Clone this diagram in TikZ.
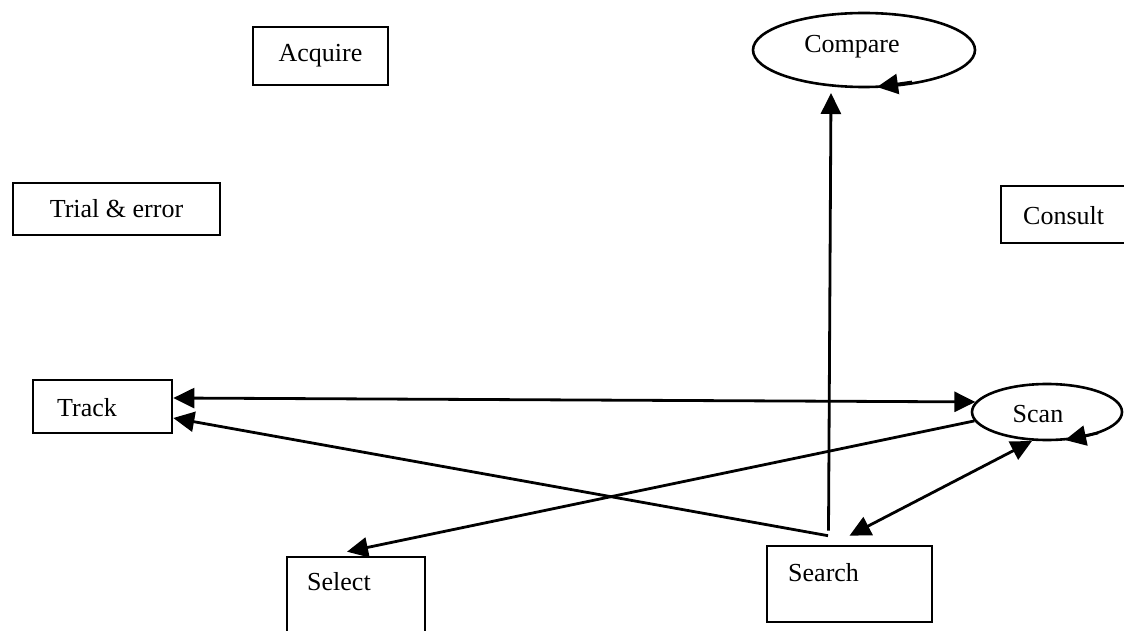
\documentclass[tikz,border=0pt]{standalone}
\usepackage{fontspec}
\setmainfont{Liberation Serif}
\usetikzlibrary{arrows.meta,shapes.geometric}
\begin{document}
\begin{tikzpicture}[x=1pt,y=-1pt,
  box/.style={draw,line width=2.6pt,rectangle,inner sep=0pt},
  oval/.style={draw,line width=2.6pt,ellipse,inner sep=0pt},
  lbl/.style={inner sep=0pt,font=\fontsize{26}{30}\selectfont},
  link/.style={line width=2.8pt},
  >={Triangle[length=21pt,width=20pt]}]
\clip (0,0) rectangle (1124,631);

% boxes with centred text
\node[box,lbl,minimum width=135pt,minimum height=58pt] (acquire) at (320.5,56) {Acquire};
\node[box,lbl,minimum width=207pt,minimum height=52pt] (trial) at (116.5,209) {Trial \& error};
\node[box,minimum width=133pt,minimum height=57pt] (consult) at (1067.5,214.5) {};
\node[lbl,anchor=base west] (consultText) at (1023,225) {Consult};

% boxes with text set near the top left
\node[box,minimum width=139pt,minimum height=53pt] (track) at (102.5,406.5) {};
\node[lbl,anchor=base west] (trackText) at (57,416) {Track};
\node[box,minimum width=138pt,minimum height=93pt] (select) at (356,603.5) {};
\node[lbl,anchor=base west] (selectText) at (307,590) {Select};
\node[box,minimum width=165pt,minimum height=76pt] (search) at (849.5,584) {};
\node[lbl,anchor=base west] (searchText) at (788,581) {Search};

% ovals
\node[oval,minimum width=222pt,minimum height=74pt] (compare) at (864,50) {};
\node[lbl,anchor=base] (compareText) at (852,53) {Compare};
\node[oval,minimum width=150pt,minimum height=56pt] (scan) at (1047,412) {};
\node[lbl,anchor=base] (scanText) at (1038,422) {Scan};

% stub arrowheads running along the lower rims of the ovals
\coordinate (compareTail) at (912,82);
\draw[link,->] (compareTail) -- ([xshift=13pt,yshift=-37pt]compare.center);
\coordinate (scanTail) at (1098,433);
\draw[link,->] (scanTail) -- ([xshift=18pt,yshift=-28pt]scan.center);

% connectors
\draw[link,<->] ([yshift=8.5pt]track.east) -- (scan.172);
\draw[link,->] ([xshift=-21.5pt,yshift=9pt]search.north) -- ([yshift=-11.5pt]track.east);
\draw[link,->] (scan.187) -- ([xshift=-9pt,yshift=4pt]select.north);
\draw[link,->] ([xshift=-21pt,yshift=14pt]search.north) -- ([xshift=-33pt,yshift=-43pt]compare.center);
\draw[link,<->] ([yshift=9pt]search.north) -- ([xshift=-15pt,yshift=-29pt]scan.center);
\end{tikzpicture}
\end{document}
